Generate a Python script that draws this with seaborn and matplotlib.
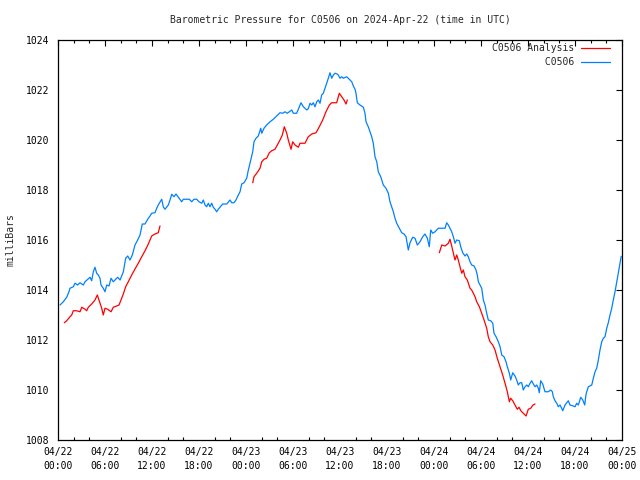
import numpy as np
import pandas as pd
import matplotlib
matplotlib.use("Agg")
import matplotlib.pyplot as plt
from matplotlib.lines import Line2D
from matplotlib.ticker import MultipleLocator
import seaborn as sns

# ---- data (hours since 2024-04-22 00:00 UTC, pressure in mbar) ----
obs_hours = [0.26, 0.68, 1.11, 1.40, 1.53, 1.95, 2.17, 2.51, 2.81, 3.23, 3.45, 4.09, 4.30, 4.51, 4.72,
             4.94, 5.14, 5.36, 5.49, 5.78, 6.00, 6.22, 6.51, 6.77, 7.06, 7.62, 7.92, 8.13, 8.34, 8.64,
             8.90, 9.19, 9.49, 9.83, 10.17, 10.47, 10.76, 11.11, 11.45, 11.75, 11.96, 12.38, 12.60, 12.80,
             13.24, 13.44, 13.66, 14.08, 14.30, 14.52, 14.81, 15.06, 15.36, 15.79, 16.00, 16.76, 17.07,
             17.36, 17.71, 18.00, 18.35, 18.55, 18.77, 18.98, 19.19, 19.40, 19.62, 19.83, 20.04, 20.26,
             20.46, 20.68, 21.03, 21.54, 21.96, 22.18, 22.47, 22.72, 23.02, 23.24, 23.45, 23.75, 24.09,
             24.30, 24.60, 24.86, 25.02, 25.28, 25.57, 25.88, 26.01, 26.30, 26.64, 27.07, 27.49, 27.92,
             28.34, 28.69, 28.98, 29.27, 29.53, 29.84, 30.04, 30.47, 30.81, 31.02, 31.32, 31.53, 31.75,
             31.95, 32.17, 32.39, 32.59, 32.81, 33.03, 33.23, 33.45, 33.66, 33.87, 34.09, 34.30, 34.51,
             34.72, 34.94, 35.15, 35.36, 35.58, 35.78, 36.00, 36.22, 36.42, 36.86, 37.19, 37.50, 37.70,
             37.92, 38.04, 38.21, 38.55, 38.98, 39.19, 39.32, 39.61, 39.83, 40.05, 40.25, 40.47, 40.69,
             40.89, 41.20, 41.53, 41.87, 42.17, 42.38, 42.60, 42.81, 43.02, 43.24, 43.57, 43.88, 44.17,
             44.43, 44.72, 44.94, 45.28, 45.58, 45.87, 46.21, 46.56, 46.85, 47.15, 47.40, 47.58, 47.84,
             48.13, 48.55, 49.41, 49.62, 49.83, 50.04, 50.26, 50.47, 50.68, 50.90, 51.23, 51.41, 51.67,
             51.96, 52.18, 52.38, 52.60, 52.81, 53.11, 53.36, 53.53, 53.66, 53.88, 54.09, 54.30, 54.51,
             54.73, 54.93, 55.24, 55.50, 55.66, 55.92, 56.21, 56.43, 56.65, 56.94, 57.19, 57.36, 57.62,
             57.79, 58.05, 58.34, 58.56, 58.76, 58.98, 59.20, 59.40, 59.62, 59.84, 60.04, 60.26, 60.47,
             60.68, 60.90, 61.11, 61.32, 61.44, 61.62, 61.88, 62.04, 62.17, 62.59, 62.90, 63.11, 63.23,
             63.45, 63.67, 63.87, 64.09, 64.30, 64.43, 64.73, 64.94, 65.15, 65.36, 65.79, 66.00, 66.22,
             66.43, 66.73, 66.99, 67.24, 67.41, 67.70, 68.14, 68.34, 68.56, 68.77, 68.98, 69.19, 69.41,
             69.62, 69.83, 70.05, 70.25, 70.47, 70.69, 70.89, 71.11, 71.33, 71.53, 71.75, 71.90]
obs_mbar = [1013.40, 1013.53, 1013.71, 1013.93, 1014.07, 1014.13, 1014.27, 1014.20, 1014.29, 1014.20,
            1014.33, 1014.51, 1014.37, 1014.73, 1014.91, 1014.67, 1014.60, 1014.47, 1014.20, 1014.07,
            1013.93, 1014.20, 1014.16, 1014.47, 1014.33, 1014.51, 1014.40, 1014.56, 1014.73, 1015.27,
            1015.36, 1015.20, 1015.40, 1015.80, 1016.00, 1016.20, 1016.64, 1016.64, 1016.83, 1016.96,
            1017.07, 1017.09, 1017.27, 1017.40, 1017.63, 1017.33, 1017.23, 1017.40, 1017.60, 1017.83,
            1017.73, 1017.84, 1017.71, 1017.53, 1017.63, 1017.63, 1017.53, 1017.63, 1017.63, 1017.53,
            1017.47, 1017.60, 1017.40, 1017.33, 1017.47, 1017.33, 1017.47, 1017.31, 1017.23, 1017.13,
            1017.23, 1017.31, 1017.44, 1017.44, 1017.60, 1017.49, 1017.49, 1017.60, 1017.80, 1017.93,
            1018.24, 1018.29, 1018.47, 1018.80, 1019.20, 1019.53, 1019.93, 1020.07, 1020.16, 1020.47,
            1020.27, 1020.47, 1020.60, 1020.73, 1020.83, 1020.96, 1021.09, 1021.07, 1021.13, 1021.07,
            1021.13, 1021.20, 1021.07, 1021.07, 1021.33, 1021.49, 1021.33, 1021.27, 1021.20, 1021.25,
            1021.47, 1021.40, 1021.49, 1021.33, 1021.53, 1021.60, 1021.47, 1021.80, 1021.87, 1022.07,
            1022.27, 1022.47, 1022.69, 1022.47, 1022.60, 1022.67, 1022.65, 1022.60, 1022.47, 1022.53,
            1022.47, 1022.53, 1022.43, 1022.33, 1022.16, 1022.03, 1021.87, 1021.49, 1021.40, 1021.31,
            1021.07, 1020.73, 1020.53, 1020.33, 1020.13, 1019.87, 1019.33, 1019.13, 1018.73, 1018.53,
            1018.20, 1018.07, 1017.87, 1017.53, 1017.33, 1017.13, 1016.87, 1016.67, 1016.47, 1016.29,
            1016.24, 1016.13, 1015.60, 1015.89, 1016.11, 1016.07, 1015.80, 1015.93, 1016.13, 1016.24,
            1016.07, 1015.73, 1016.40, 1016.27, 1016.33, 1016.47, 1016.47, 1016.69, 1016.60, 1016.47,
            1016.33, 1016.13, 1015.87, 1016.00, 1015.97, 1015.73, 1015.49, 1015.36, 1015.44, 1015.33,
            1015.13, 1015.00, 1014.96, 1014.80, 1014.60, 1014.33, 1014.20, 1014.07, 1013.60, 1013.40,
            1013.07, 1012.80, 1012.77, 1012.67, 1012.27, 1012.13, 1011.93, 1011.73, 1011.40, 1011.33,
            1011.13, 1010.93, 1010.67, 1010.40, 1010.69, 1010.56, 1010.40, 1010.20, 1010.29, 1010.29,
            1010.00, 1010.13, 1010.20, 1010.13, 1010.27, 1010.37, 1010.24, 1010.13, 1010.20, 1010.07,
            1009.89, 1010.37, 1010.24, 1010.07, 1009.93, 1009.93, 1010.00, 1009.93, 1009.73, 1009.57,
            1009.47, 1009.33, 1009.40, 1009.27, 1009.17, 1009.40, 1009.49, 1009.57, 1009.40, 1009.36,
            1009.33, 1009.47, 1009.40, 1009.71, 1009.60, 1009.40, 1009.84, 1010.13, 1010.20, 1010.47,
            1010.73, 1010.87, 1011.20, 1011.60, 1011.93, 1012.07, 1012.13, 1012.47, 1012.69, 1013.00,
            1013.27, 1013.60, 1013.93, 1014.33, 1014.67, 1015.07, 1015.35]

ana1_hours = [0.80, 1.11, 1.53, 1.75, 1.95, 2.39, 2.81, 3.03, 3.45, 3.66, 3.87, 4.30, 4.72, 5.02, 5.23,
              5.58, 5.78, 6.00, 6.34, 6.77, 7.06, 7.49, 7.79, 8.04, 8.34, 8.64, 8.97, 9.41, 9.83, 10.25,
              10.69, 11.11, 11.53, 11.96, 12.38, 12.80, 13.02]
ana1_mbar = [1012.69, 1012.77, 1012.93, 1013.00, 1013.17, 1013.17, 1013.13, 1013.31, 1013.23, 1013.17,
             1013.31, 1013.44, 1013.60, 1013.80, 1013.60, 1013.27, 1013.00, 1013.27, 1013.23, 1013.13,
             1013.31, 1013.36, 1013.40, 1013.60, 1013.84, 1014.13, 1014.33, 1014.60, 1014.84, 1015.07,
             1015.33, 1015.57, 1015.84, 1016.16, 1016.24, 1016.29, 1016.56]
ana2_hours = [24.86, 25.02, 25.37, 25.79, 26.01, 26.30, 26.64, 26.98, 27.28, 27.70, 28.00, 28.34, 28.64,
              28.89, 29.20, 29.40, 29.75, 29.96, 30.26, 30.68, 30.89, 31.53, 31.95, 32.39, 32.94, 33.36,
              33.79, 34.21, 34.64, 34.94, 35.58, 35.91, 36.22, 36.51, 36.77, 36.93]
ana2_mbar = [1018.29, 1018.53, 1018.67, 1018.87, 1019.13, 1019.23, 1019.27, 1019.49, 1019.57, 1019.63,
             1019.80, 1020.00, 1020.20, 1020.53, 1020.27, 1020.00, 1019.63, 1019.93, 1019.80, 1019.71,
             1019.87, 1019.87, 1020.13, 1020.24, 1020.29, 1020.53, 1020.80, 1021.13, 1021.40, 1021.49,
             1021.49, 1021.87, 1021.73, 1021.60, 1021.44, 1021.60]
ana3_hours = [48.68, 48.99, 49.41, 49.83, 50.04, 50.26, 50.47, 50.68, 50.90, 51.10, 51.32, 51.54, 51.74,
              51.96, 52.25, 52.60, 52.81, 53.02, 53.24, 53.45, 53.79, 54.09, 54.39, 54.73, 54.93, 55.15,
              55.50, 55.79, 56.08, 56.43, 56.77, 57.07, 57.36, 57.62, 57.79, 58.05, 58.34, 58.64, 58.85,
              59.11, 59.40, 59.75, 60.04, 60.35, 60.64, 60.90]
ana3_mbar = [1015.49, 1015.80, 1015.76, 1015.87, 1016.03, 1015.76, 1015.47, 1015.20, 1015.40, 1015.20,
             1014.93, 1014.67, 1014.80, 1014.53, 1014.40, 1014.07, 1014.00, 1013.87, 1013.73, 1013.53,
             1013.33, 1013.07, 1012.80, 1012.47, 1012.13, 1011.93, 1011.80, 1011.60, 1011.27, 1010.93,
             1010.60, 1010.27, 1009.93, 1009.53, 1009.67, 1009.57, 1009.40, 1009.23, 1009.31, 1009.16,
             1009.07, 1008.96, 1009.23, 1009.27, 1009.40, 1009.44]

series_names = ["C0506 Analysis", "C0506"]
tick_hours = [0, 6, 12, 18, 24, 30, 36, 42, 48, 54, 60, 66, 72]
tick_labels = ["04/22\n00:00", "04/22\n06:00", "04/22\n12:00", "04/22\n18:00",
               "04/23\n00:00", "04/23\n06:00", "04/23\n12:00", "04/23\n18:00",
               "04/24\n00:00", "04/24\n06:00", "04/24\n12:00", "04/24\n18:00",
               "04/25\n00:00"]
y_ticks = [1008, 1010, 1012, 1014, 1016, 1018, 1020, 1022, 1024]

# ---- build long-form table ----
frames = [pd.DataFrame({"hour": obs_hours, "mbar": obs_mbar, "series": series_names[1], "seg": 0})]
for i, (h, p) in enumerate([(ana1_hours, ana1_mbar), (ana2_hours, ana2_mbar), (ana3_hours, ana3_mbar)]):
    frames.append(pd.DataFrame({"hour": h, "mbar": p, "series": series_names[0], "seg": i + 1}))
df = pd.concat(frames, ignore_index=True)

sns.set_style("white")
mono = "DejaVu Sans Mono"
plt.rcParams["font.family"] = [mono, "DejaVu Sans"]

colors = {"C0506 Analysis": "#ff0000", "C0506": "#0080ff"}
LW = 0.9

fig = plt.figure(figsize=(6.4, 4.8), dpi=100)
ax = fig.add_axes([58 / 640, 40 / 480, 564 / 640, 400 / 480])

sns.lineplot(data=df, x="hour", y="mbar", hue="series", units="seg", estimator=None,
             palette=colors, hue_order=["C0506", "C0506 Analysis"], linewidth=LW,
             legend=False, ax=ax, sort=False)

ax.set_xlim(0, 72)
ax.set_ylim(1008, 1024)
ax.set_xticks(tick_hours)
ax.set_xticklabels(tick_labels, fontsize=7, family=mono, linespacing=1.45)
ax.xaxis.set_minor_locator(MultipleLocator(2))
ax.set_yticks(y_ticks)
ax.set_yticklabels([str(v) for v in y_ticks], fontsize=7, family=mono)
ax.tick_params(axis="both", which="major", direction="in", length=4.5, width=0.8,
               top=True, right=True, color="black", labelcolor="black")
ax.tick_params(axis="x", which="major", pad=5)
ax.tick_params(axis="y", which="major", pad=6)
ax.tick_params(axis="x", which="minor", direction="in", length=2.5, width=0.8,
               top=True, bottom=True, color="black")
for s in ax.spines.values():
    s.set_visible(True)
    s.set_color("black")
    s.set_linewidth(0.9)
ax.set_xlabel("")
ax.set_ylabel("milliBars", fontsize=7, family=mono, labelpad=8)
ax.grid(False)

fig.text(340 / 640, 1 - 20 / 480, "Barometric Pressure for C0506 on 2024-Apr-22 (time in UTC)",
         ha="center", va="center", fontsize=7, family=mono)

handles = [Line2D([], [], color=colors["C0506 Analysis"], lw=LW),
           Line2D([], [], color=colors["C0506"], lw=LW)]
ax.legend(handles, ["C0506 Analysis", "         C0506"], loc="upper right",
          bbox_to_anchor=(1 - 12 / 564, 1 - 3 / 400), borderaxespad=0, borderpad=0,
          frameon=False, markerfirst=False, handlelength=3.0, handletextpad=0.7,
          labelspacing=0.45, prop={"family": mono, "size": 7})

fig.savefig("out.png", dpi=100)
